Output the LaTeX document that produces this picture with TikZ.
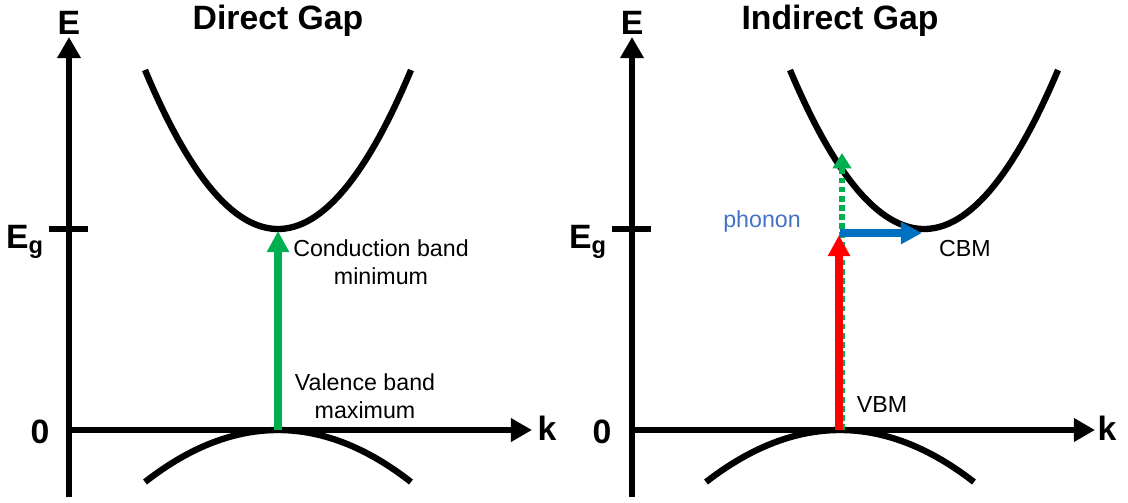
\documentclass[tikz,border=0pt]{standalone}
\usepackage{fontspec}
\setmainfont{Liberation Sans}
\usetikzlibrary{arrows.meta,positioning}
\definecolor{excite}{HTML}{00B050}
\definecolor{photon}{HTML}{FF0000}
\definecolor{kmove}{HTML}{0070C0}
\definecolor{phonontxt}{HTML}{4472C4}

\begin{document}
\begin{tikzpicture}[x=0.025cm, y=-0.025cm,
				axis/.style={line width=4.3pt, -{Triangle[length=15pt,width=16pt]}},
				band/.style={line width=4.5pt},
				tick/.style={line width=4.3pt},
				trans/.style={line width=5pt, -{Triangle[length=15pt,width=15pt]}},
				lbl/.style={font=\fontsize{16.5}{19.5}\selectfont, align=center, inner sep=0pt},
				big/.style={font=\bfseries\fontsize{24}{28}\selectfont, inner sep=0pt}]
				\useasboundingbox (0,0) rectangle (1128,502);
				% direct gap
				\coordinate (oL)   at (69,430);
				\coordinate (botL) at (69,497);
				\coordinate (topL) at (69,37);
				\coordinate (endL) at (532,430);
				\coordinate (egaL) at (49,229);
				\coordinate (egbL) at (88,229);
				\coordinate (vbmL) at (278,430);
				\coordinate (cbmL) at (278,231);
				\draw[axis] (botL) -- (topL);
				\draw[axis] (oL) -- (endL);
				\draw[tick] (egaL) -- (egbL);
				\node[big] (eL) at (69,23) {E};
				\node[big] (kL) at (547,428) {k};
				\node[big] (zL) at (40,432) {0};
				\node[big, anchor=base] (egL) at (25,248) {E\textsubscript{g}};
				\node[big] (tL) at (278,21) {Direct Gap};
				\draw[band] plot[domain=-133:133, samples=60] ({278+\x}, {229-159*(\x/133)^2});
				\draw[band] plot[domain=-133:133, samples=60] ({278+\x}, {430+52*(\x/133)^2});
				\draw[trans, excite] (vbmL) -- (cbmL);
				\node[lbl] (cbL) at (381,262) {Conduction band\\minimum};
				\node[lbl] (vbL) at (365,396) {Valence band\\maximum};
				% indirect gap
				\coordinate (oR)   at (632,430);
				\coordinate (botR) at (632,497);
				\coordinate (topR) at (632,37);
				\coordinate (endR) at (1095,430);
				\coordinate (egaR) at (612,229);
				\coordinate (egbR) at (651,229);
				\coordinate (vbmR) at (842,430);
				\coordinate (upR)  at (842,153);
				\coordinate (redR) at (839,430);
				\coordinate (midR) at (839,235);
				\coordinate (kinkR) at (840,233);
				\coordinate (cbmR) at (922,233);
				\draw[axis] (botR) -- (topR);
				\draw[axis] (oR) -- (endR);
				\draw[tick] (egaR) -- (egbR);
				\node[big] (eR) at (632,23) {E};
				\node[big] (kR) at (1107,428) {k};
				\node[big] (zR) at (602,432) {0};
				\node[big, anchor=base] (egR) at (588,248) {E\textsubscript{g}};
				\node[big] (tR) at (840,21) {Indirect Gap};
				\draw[band] plot[domain=-134:134, samples=60] ({924+\x}, {229-159*(\x/134)^2});
				\draw[band] plot[domain=-134:134, samples=60] ({840+\x}, {430+52*(\x/134)^2});
				\draw[excite, line width=4pt, dash pattern=on 4pt off 2.5pt, -{Triangle[length=11pt,width=13pt]}] (vbmR) -- (upR);
				\draw[trans, photon] (redR) -- (midR);
				\draw[trans, kmove] (kinkR) -- (cbmR);
				\node[lbl, phonontxt] (phR) at (762,221) {phonon};
				\node[lbl] (cbmT) at (965,249) {CBM};
				\node[lbl] (vbmT) at (882,405) {VBM};
			\end{tikzpicture}
\end{document}
